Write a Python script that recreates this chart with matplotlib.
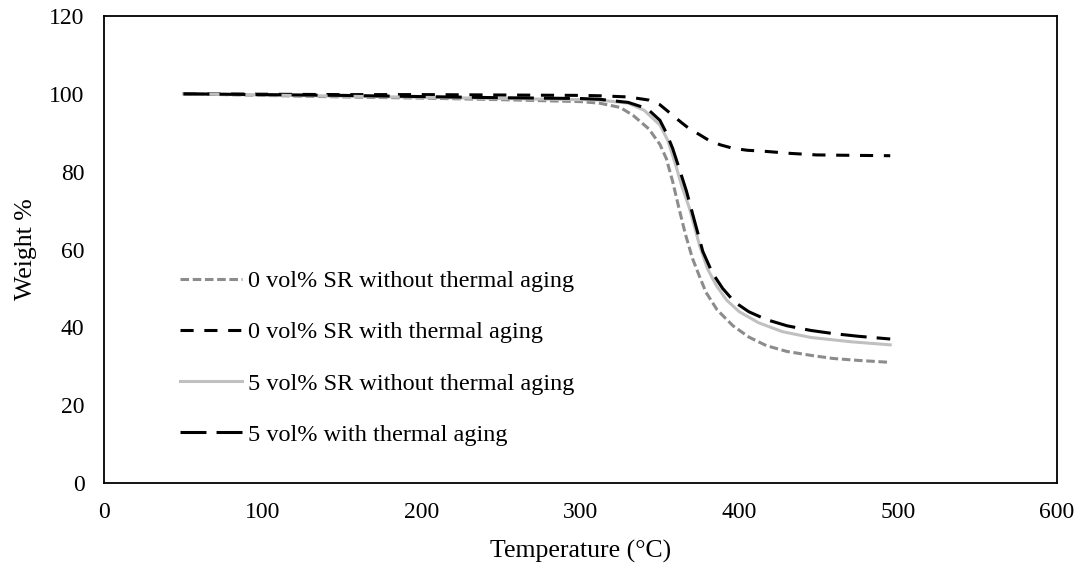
import matplotlib
matplotlib.use("Agg")
import matplotlib.pyplot as plt

plt.rcParams['font.family'] = ['Liberation Serif', 'DejaVu Serif']

# 0 vol% SR without thermal aging
t1 = [50, 100, 150, 200, 250, 300, 312, 325, 333, 343, 350, 354, 358, 362, 366, 370.5, 375, 379, 386, 396, 406, 417, 430, 445, 459, 475, 495]
w1 = [100, 99.6, 99.2, 98.9, 98.5, 98.0, 97.6, 96.5, 94.5, 91.0, 87.0, 83.4, 77.5, 70.6, 64.0, 57.7, 53.0, 49.0, 44.5, 40.4, 37.5, 35.3, 33.8, 32.8, 32.0, 31.5, 31.0]

# 0 vol% SR with thermal aging
t2 = [50, 100, 150, 200, 250, 300, 312, 330, 343, 350, 358, 363, 368.6, 375, 381, 388, 396, 405, 417, 432, 448.6, 470, 495]
w2 = [100, 99.9, 99.8, 99.8, 99.7, 99.6, 99.5, 99.2, 98.4, 97.2, 94.5, 92.8, 91.0, 89.5, 88.0, 86.9, 86.0, 85.5, 85.2, 84.7, 84.3, 84.2, 84.1]

# 5 vol% SR without thermal aging
t3 = [50, 100, 150, 200, 250, 300, 312, 330, 340, 350, 355, 360, 364, 368.6, 375, 380, 385.6, 392, 400, 412, 427, 445, 470, 495]
w3 = [100, 99.7, 99.4, 99.1, 98.8, 98.5, 98.4, 97.6, 95.8, 92.0, 88.0, 81.6, 76.0, 70.6, 61.0, 55.0, 50.7, 47.0, 44.0, 41.2, 38.9, 37.4, 36.3, 35.5]

# 5 vol% with thermal aging
t4 = [50, 100, 150, 200, 250, 300, 312, 330, 342, 350, 354, 358, 362, 366.7, 372, 377, 383, 389.5, 397, 406, 417, 430, 445, 459, 475, 495]
w4 = [100, 99.8, 99.6, 99.3, 99.0, 98.8, 98.6, 97.8, 96.2, 93.2, 90.0, 86.0, 81.0, 75.0, 67.0, 59.5, 54.0, 50.0, 46.5, 44.0, 42.0, 40.4, 39.2, 38.4, 37.7, 37.0]

labels = ['0 vol% SR without thermal aging', '0 vol% SR with thermal aging',
          '5 vol% SR without thermal aging', '5 vol% with thermal aging']

fig = plt.figure(figsize=(10.8, 5.66), dpi=100)
ax = fig.add_axes([104/1080, 1-483/566, (1057-104)/1080, (483-16)/566])

ax.plot(t1, w1, color='#8c8c8c', lw=2.2, dashes=(2.8, 1.2), label=labels[0])
ax.plot(t2, w2, color='black', lw=2.2, dashes=(4.3, 3.5), label=labels[1])
ax.plot(t3, w3, color='#c0c0c0', lw=2.2, label=labels[2])
ax.plot(t4, w4, color='black', lw=2.2, dashes=(8.5, 3.3), label=labels[3])

ax.set_xlim(0, 600)
ax.set_ylim(0, 120)
ax.set_xticks(range(0, 601, 100))
ax.set_yticks(range(0, 121, 20))
ax.tick_params(length=0, labelsize=17, pad=14)
for s in ax.spines.values():
    s.set_linewidth(1.3)
    s.set_color('black')
ax.set_xlabel('Temperature (°C)', fontsize=18.5, labelpad=12)
ax.set_ylabel('Weight %', fontsize=18.5, labelpad=9)

ax.legend(loc='center left', bbox_to_anchor=(0.0696, 0.2677), frameon=False, fontsize=17.5,
          handlelength=2.55, handletextpad=0.25, labelspacing=1.2, borderaxespad=0)

fig.savefig('out.png', dpi=100)
